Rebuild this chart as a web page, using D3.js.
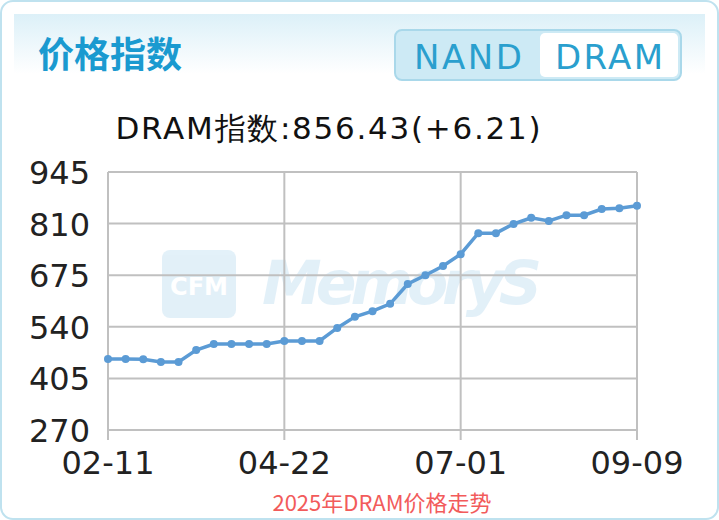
<!DOCTYPE html>
<html><head><meta charset="utf-8">
<script src="https://cdn.jsdelivr.net/npm/d3@7"></script>
<style>body{margin:0;background:#fff}svg{display:block;font-family:"DejaVu Sans",sans-serif}</style>
</head><body><svg id="c" width="719" height="520"></svg>
<script>
const startDate = "2025-02-11";
const values = [456,456,455,448,448,479,495,495,495,495,503,503,503,537,566,581,600,652,675,699,730,785,785,809,825,817,832,832,848,850,856.43];
const yTicks = [270,405,540,675,810,945];
const xTickLabels = ["02-11","04-22","07-01","09-09"];
const xTickDates = ["2025-02-11","2025-04-22","2025-07-01","2025-09-09"];

const parse = d3.timeParse("%Y-%m-%d");
const t0 = parse(startDate);
const data = values.map((v,i)=>({d:d3.timeDay.offset(t0,i*7),v}));
const svg = d3.select("#c");
const defs = svg.append("defs");
const g1 = defs.append("linearGradient").attr("id","hg").attr("x1",0).attr("y1",0).attr("x2",0).attr("y2",1);
g1.append("stop").attr("offset","0").attr("stop-color","#dcf0f8");
g1.append("stop").attr("offset","1").attr("stop-color","#ffffff");
svg.append("rect").attr("x",1).attr("y",1).attr("width",717).attr("height",518).attr("rx",12).attr("fill","#fff").attr("stroke","#bfe2ef").attr("stroke-width",2);
svg.append("rect").attr("x",14).attr("y",14).attr("width",691).attr("height",60).attr("fill","url(#hg)");
svg.append("text").attr("x",38).attr("y",68).attr("font-size",36).attr("font-weight","bold").attr("fill","#1a9ad0").attr("font-family","Noto Sans CJK SC").text("价格指数");
svg.append("rect").attr("x",395).attr("y",30).attr("width",286).attr("height",50).attr("rx",7).attr("fill","#cdeaf5").attr("stroke","#a9d8ea").attr("stroke-width",2);
svg.append("rect").attr("x",540).attr("y",33).attr("width",138).attr("height",44).attr("rx",5).attr("fill","#fff");
svg.append("text").attr("x",468).attr("y",69).attr("text-anchor","middle").attr("font-size",34).attr("fill","#2a9fce").attr("textLength",108).text("NAND");
svg.append("text").attr("x",609).attr("y",69).attr("text-anchor","middle").attr("font-size",34).attr("fill","#2a9fce").attr("textLength",108).text("DRAM");
svg.append("text").attr("x",328).attr("y",139).attr("text-anchor","middle").attr("font-size",31).attr("fill","#111").attr("textLength",425).text("DRAM指数:856.43(+6.21)");

const x = d3.scaleTime().domain([parse(xTickDates[0]),parse(xTickDates[3])]).range([108,637]);
const y = d3.scaleLinear().domain([270,945]).range([430,172]);

const wm = svg.append("g").attr("opacity",0.13);
wm.append("rect").attr("x",162).attr("y",250).attr("width",74).attr("height",68).attr("rx",8).attr("fill","#2a8fd0");
wm.append("text").attr("x",199).attr("y",295).attr("text-anchor","middle").attr("font-size",24).attr("font-weight","bold").attr("fill","#fff").text("CFM");
wm.append("text").attr("x",262).attr("y",304).attr("font-size",60).attr("font-style","italic").attr("font-weight","bold").attr("fill","#2a8fd0").attr("textLength",280).text("MemoryS");

svg.append("g").selectAll("line").data(yTicks).join("line")
 .attr("x1",108).attr("x2",637).attr("y1",d=>y(d)).attr("y2",d=>y(d)).attr("stroke","#c0c0c0").attr("stroke-width",2);
svg.append("g").selectAll("line").data(xTickDates).join("line")
 .attr("x1",d=>x(parse(d))).attr("x2",d=>x(parse(d))).attr("y1",172).attr("y2",440).attr("stroke","#c0c0c0").attr("stroke-width",2);
svg.append("g").selectAll("text").data(yTicks).join("text")
 .attr("x",90).attr("y",d=>y(d)+12).attr("text-anchor","end").attr("font-size",32).attr("fill","#222").text(d=>d);
svg.append("g").selectAll("text").data(xTickDates).join("text")
 .attr("x",d=>x(parse(d))).attr("y",474).attr("text-anchor","middle").attr("font-size",32).attr("fill","#222").text((d,i)=>xTickLabels[i]);

svg.append("path").datum(data).attr("fill","none").attr("stroke","#5b9bd5").attr("stroke-width",3.5)
 .attr("d",d3.line().x(d=>x(d.d)).y(d=>y(d.v)));
svg.append("g").selectAll("circle").data(data).join("circle")
 .attr("cx",d=>x(d.d)).attr("cy",d=>y(d.v)).attr("r",4).attr("fill","#5b9bd5");

svg.append("text").attr("x",382).attr("y",511).attr("text-anchor","middle").attr("font-size",22).attr("fill","#f25b5b").attr("font-family","Noto Sans CJK SC").text("2025年DRAM价格走势");
</script></body></html>
